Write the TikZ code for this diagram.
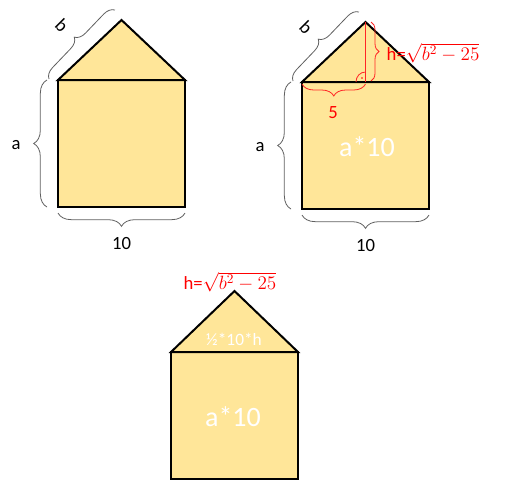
\documentclass[tikz,border=0pt]{standalone}
\usepackage{fontspec}
\setmainfont{Carlito}
\usetikzlibrary{decorations.pathreplacing}
\definecolor{roof}{HTML}{FFE699}
\definecolor{brcgray}{HTML}{5F5F5F}
\definecolor{mred}{HTML}{FF0000}

\begin{document}
\begin{tikzpicture}[x=0.75pt, y=-0.75pt,
    wall/.style={draw=black, line width=1.5pt, fill=roof, line join=miter},
    brc/.style={draw=brcgray, line width=0.6pt, decorate, decoration={brace, amplitude=#1}},
    brc/.default=10pt,
    rbrc/.style={brc=#1, draw=mred!85},
    lbl/.style={font=\fontsize{14}{16}\selectfont, text=black},
    rlbl/.style={font=\fontsize{14}{16}\selectfont, text=mred},
    area/.style={font=\fontsize{21}{24}\selectfont, text=white}]
    \useasboundingbox (0,0) rectangle (509,480);

    % Houses 1 and 2 with their side lengths
    \foreach \i/\sx/\sy in {1/58/80, 2/302/82} {
      \begin{scope}[shift={(\sx,\sy)}]
        \draw[wall] (0,0) rectangle (127,127);
        \draw[wall] (0,0) -- (63.5,-60) -- (127,0) -- cycle;
        \draw[brc=8pt] (-9,-1) -- (57,-70);
        \node[lbl, rotate=-45] (b\i) at (4,-55) {b};
        \draw[brc] (-11,127) -- (-11,0);
        \node[lbl] (a\i) at (-42,65) {a};
        \draw[brc] (127,133) -- (0,133);
        \node[lbl] (w\i) at (63.5,163) {10};
      \end{scope}
    }

    % Height of the roof in house 2
    \begin{scope}[shift={(302,82)}]
      \draw[mred!85, line width=0.8pt] (63.5,-60) -- (63.5,0);
      \draw[mred!85, line width=0.6pt] (54,0) .. controls (54,-5.5) and (58,-10) .. (63.5,-10);
      \fill[mred] (60,-4) circle (0.9);
      \draw[rbrc=6pt] (69,-60) -- (69,-1);
      \node[rlbl, anchor=west] (h2) at (80,-29) {h=$\sqrt{b^2-25}$};
      \draw[rbrc=9pt] (63.5,2) -- (0,2);
      \node[rlbl] (f2) at (31,31) {5};
      \node[area] (r2) at (65,65) {a*10};
    \end{scope}

    % House 3 with both areas
    \begin{scope}[shift={(171,352)}]
      \draw[wall] (0,0) rectangle (127,127);
      \draw[wall] (0,0) -- (63.5,-61) -- (127,0) -- cycle;
      \node[rlbl] (h3) at (59,-70) {h=$\sqrt{b^2-25}$};
      \node[area, font=\fontsize{13}{15}\selectfont] (t3) at (63,-13) {½*10*h};
      \node[area] (r3) at (62,65) {a*10};
    \end{scope}
\end{tikzpicture}
\end{document}
